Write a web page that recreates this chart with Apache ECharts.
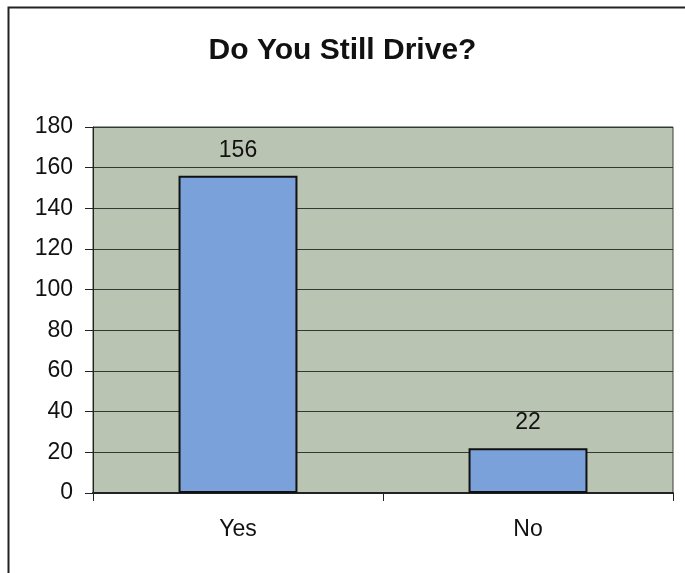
<!DOCTYPE html>
<html><head><meta charset="utf-8">
<script src="https://cdn.jsdelivr.net/npm/echarts@6/dist/echarts.min.js"></script>
<style>html,body{margin:0;padding:0;background:#fff}#c{width:685px;height:573px}</style>
</head><body><div id="c"></div>
<script>
const categories = ['Yes', 'No'];
const values = [156, 22];
const yTicks = [0, 20, 40, 60, 80, 100, 120, 140, 160, 180];

const chart = echarts.init(document.getElementById('c'));
chart.setOption({
  animation: false,
  backgroundColor: '#ffffff',
  graphic: [{
    type: 'rect', left: 6, top: 5, z: -10,
    shape: { width: 690, height: 580 },
    style: { fill: 'none', stroke: '#222', lineWidth: 2 }
  }],
  title: {
    text: 'Do You Still Drive?', left: 'center', top: 31,
    textStyle: { fontFamily: 'Liberation Sans, Arial', fontWeight: 'bold', fontSize: 30, color: '#111' }
  },
  grid: { left: 93, right: 12, top: 127, bottom: 80, show: true, backgroundColor: '#b9c4b2', borderColor: '#3a3f3a', borderWidth: 1 },
  xAxis: {
    type: 'category', data: categories,
    axisLine: { lineStyle: { color: '#222', width: 2 } },
    axisTick: { show: true, length: 8, lineStyle: { color: '#222' } },
    axisLabel: { fontFamily: 'Liberation Sans, Arial', fontSize: 23, color: '#111', margin: 25 }
  },
  yAxis: {
    type: 'value', min: 0, max: 180, interval: 20,
    axisLine: { show: true, lineStyle: { color: '#222' } },
    axisTick: { show: true, length: 8, lineStyle: { color: '#222' } },
    splitLine: { lineStyle: { color: '#2f3a30', width: 1 } },
    axisLabel: { fontFamily: 'Liberation Sans, Arial', fontSize: 23, color: '#111', margin: 20,
      formatter: v => yTicks.includes(v) ? String(v) : '' }
  },
  series: [{
    type: 'bar', data: values, barWidth: '41%',
    itemStyle: { color: '#7ba1da', borderColor: '#111', borderWidth: 2 },
    label: { show: true, position: 'top', distance: 14, fontFamily: 'Liberation Sans, Arial', fontSize: 23, color: '#111' }
  }]
});
</script></body></html>
